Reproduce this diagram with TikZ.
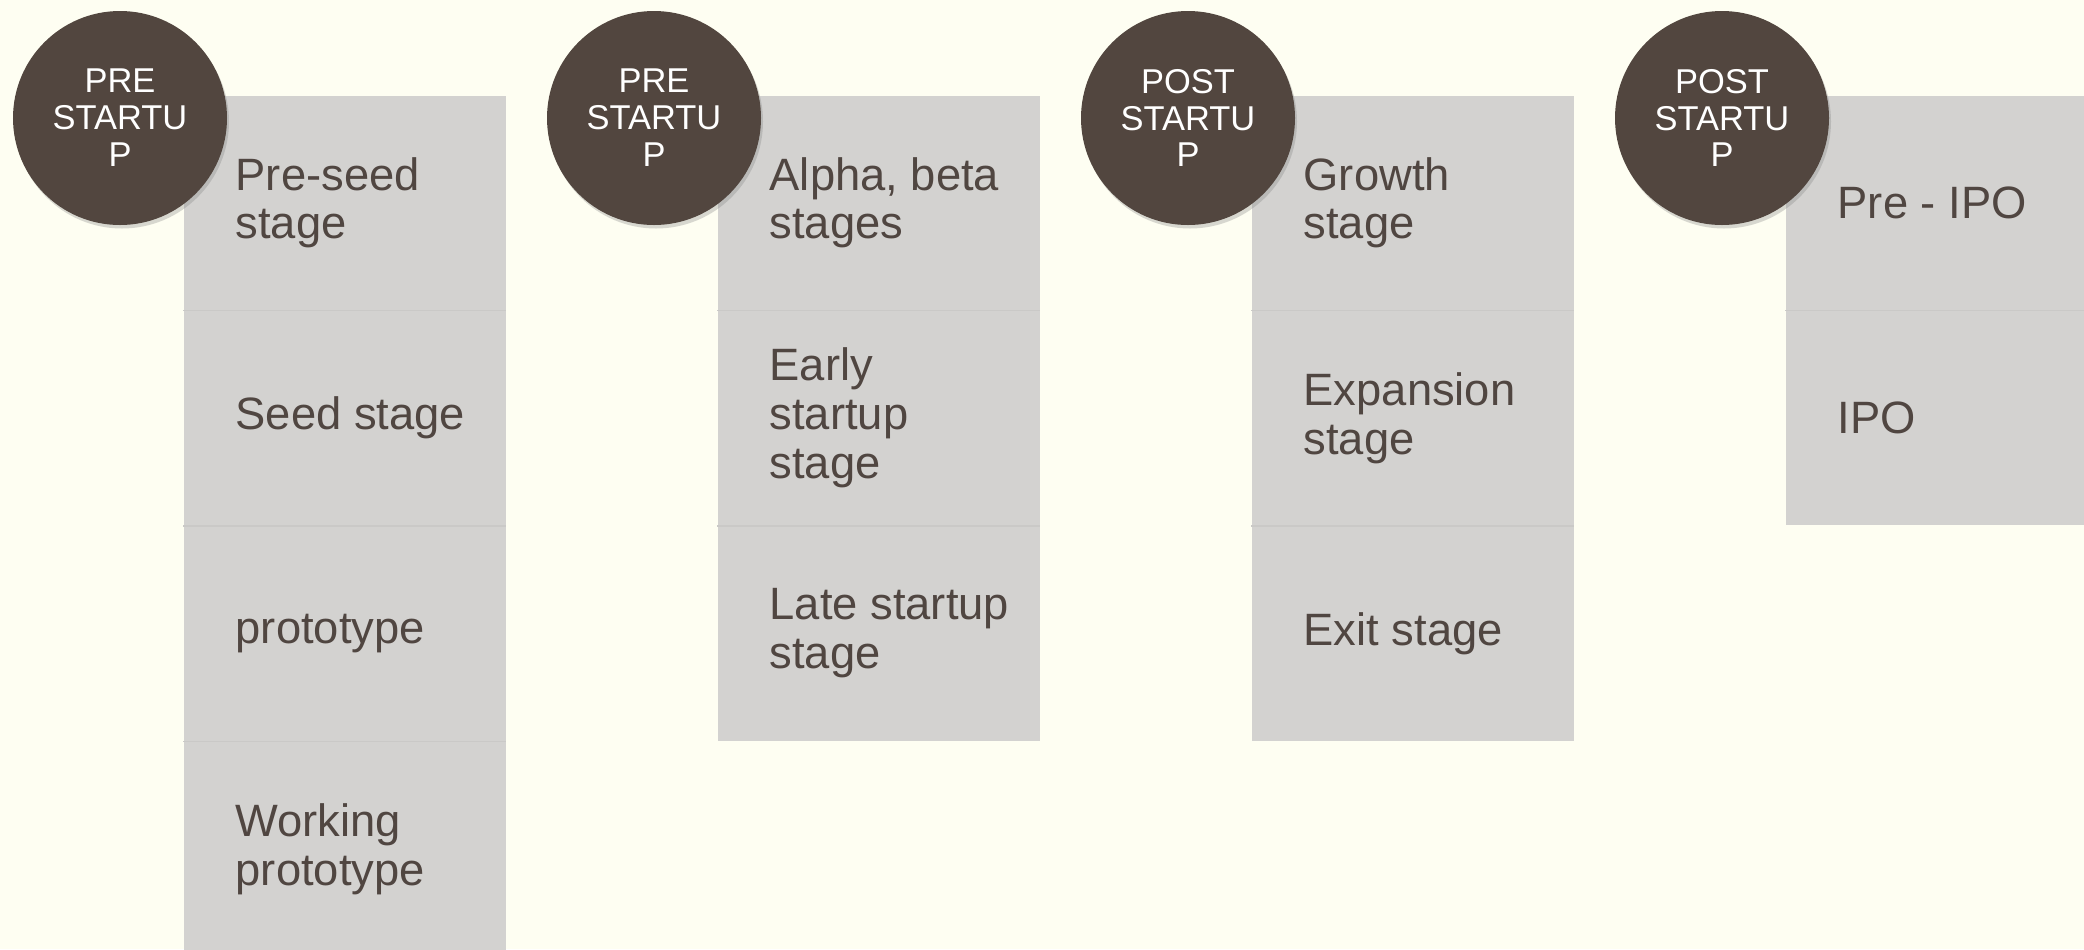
\documentclass[tikz,border=0pt]{standalone}
\usepackage{fontspec}
\setmainfont{Liberation Sans}
\usepackage{tikz}
\usetikzlibrary{positioning,shadows}

\definecolor{bgcream}{RGB}{254,254,242}
\definecolor{phasebrown}{RGB}{82,70,63}
\definecolor{boxgray}{RGB}{211,210,208}
\definecolor{sepgray}{RGB}{202,201,199}
\definecolor{stagetextcol}{RGB}{80,70,65}

\tikzset{
	stagebox/.style={rectangle,fill=boxgray,anchor=north west,minimum width=3.22cm,minimum height=2.14cm,inner sep=0pt},
	stagetext/.style={anchor=west,align=left,inner sep=0pt,text=stagetextcol,font=\fontsize{12.9pt}{13.9pt}\selectfont},
	sepline/.style={draw=sepgray,line width=0.4pt},
	phase/.style={circle,fill=phasebrown,minimum size=2.14cm,inner sep=0pt,align=center,text=white,
		font=\fontsize{9.8pt}{10.5pt}\selectfont,
		drop shadow={shadow xshift=0.02cm,shadow yshift=-0.035cm,opacity=0.3}}
}

\begin{document}
\begin{tikzpicture}
	%background
	\fill[bgcream] (0,0) rectangle (20.84,-9.49);
	\useasboundingbox (0,0) rectangle (20.84,-9.49);
	
	%boxes - column 1
	\node[stagebox] (b11) at (1.83,-0.95) {};
	\node[stagebox] (b12) at (b11.south west) {};
	\node[stagebox] (b13) at (b12.south west) {};
	\node[stagebox] (b14) at (b13.south west) {};
	%boxes - column 2
	\node[stagebox] (b21) at (7.17,-0.95) {};
	\node[stagebox] (b22) at (b21.south west) {};
	\node[stagebox] (b23) at (b22.south west) {};
	%boxes - column 3
	\node[stagebox] (b31) at (12.51,-0.95) {};
	\node[stagebox] (b32) at (b31.south west) {};
	\node[stagebox] (b33) at (b32.south west) {};
	%boxes - column 4
	\node[stagebox] (b41) at (17.85,-0.95) {};
	\node[stagebox] (b42) at (b41.south west) {};
	
	%separators
	\draw[sepline] (b11.south west) -- (b11.south east);
	\draw[sepline] (b12.south west) -- (b12.south east);
	\draw[sepline] (b13.south west) -- (b13.south east);
	\draw[sepline] (b21.south west) -- (b21.south east);
	\draw[sepline] (b22.south west) -- (b22.south east);
	\draw[sepline] (b31.south west) -- (b31.south east);
	\draw[sepline] (b32.south west) -- (b32.south east);
	\draw[sepline] (b41.south west) -- (b41.south east);
	
	%stage labels
	\node[stagetext,right=0.52cm of b11.west] (t11) {Pre-seed\\stage};
	\node[stagetext,right=0.52cm of b12.west] (t12) {Seed stage};
	\node[stagetext,right=0.52cm of b13.west] (t13) {prototype};
	\node[stagetext,right=0.52cm of b14.west] (t14) {Working\\prototype};
	%
	\node[stagetext,right=0.52cm of b21.west] (t21) {Alpha, beta\\stages};
	\node[stagetext,right=0.52cm of b22.west] (t22) {Early\\startup\\stage};
	\node[stagetext,right=0.52cm of b23.west] (t23) {Late startup\\stage};
	%
	\node[stagetext,right=0.52cm of b31.west] (t31) {Growth\\stage};
	\node[stagetext,right=0.52cm of b32.west] (t32) {Expansion\\stage};
	\node[stagetext,right=0.52cm of b33.west] (t33) {Exit stage};
	%
	\node[stagetext,right=0.52cm of b41.west] (t41) {Pre - IPO};
	\node[stagetext,right=0.52cm of b42.west] (t42) {IPO};
	
	%circles
	\node[phase] (p1) at (1.20,-1.18)  {PRE\\STARTU\\P};
	\node[phase] (p2) at (6.54,-1.18)  {PRE\\STARTU\\P};
	\node[phase] (p3) at (11.88,-1.18) {POST\\STARTU\\P};
	\node[phase] (p4) at (17.22,-1.18) {POST\\STARTU\\P};
\end{tikzpicture}
\end{document}
